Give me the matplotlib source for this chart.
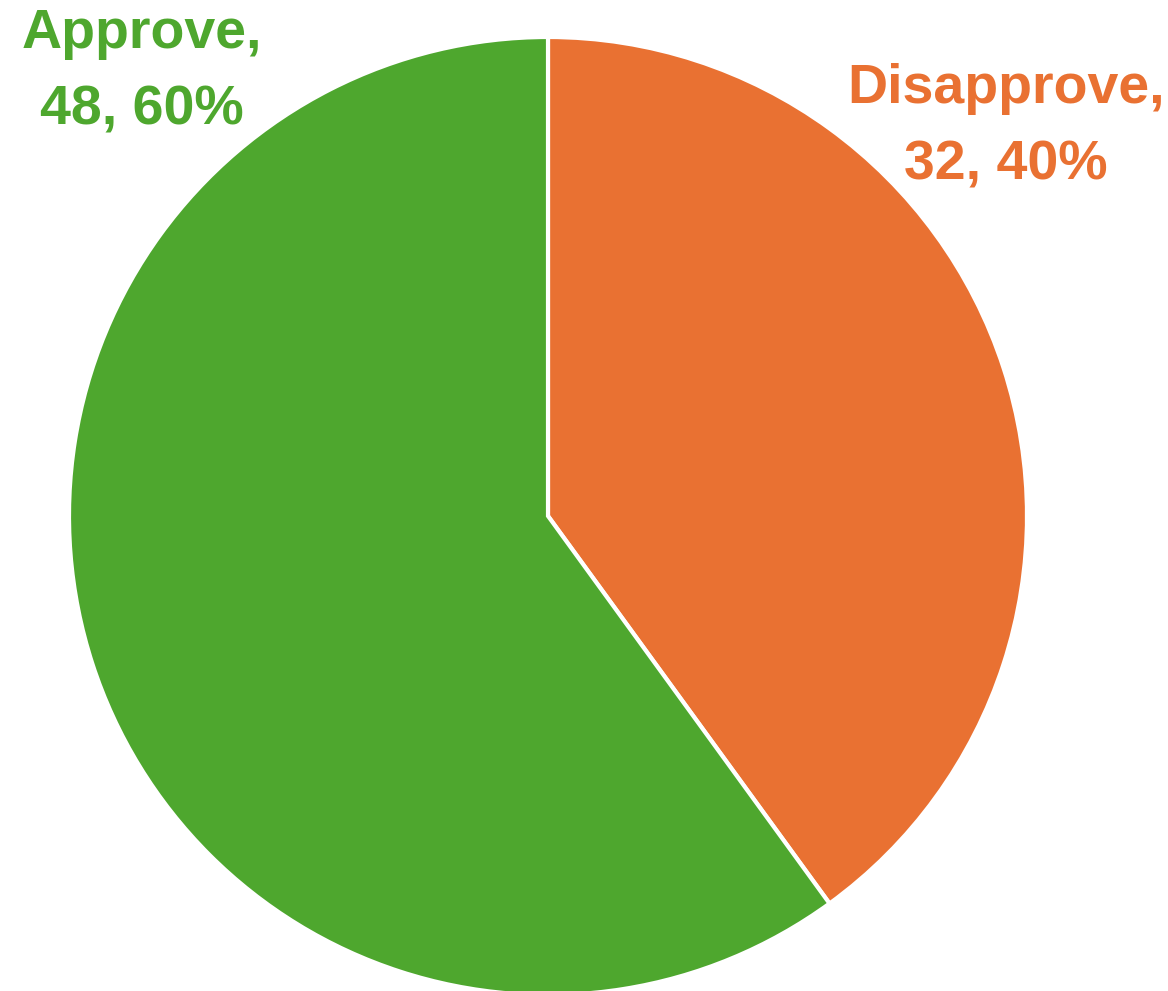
import matplotlib.pyplot as plt

# ── Data ─────────────────────────────────────────────
categories = ['Disapprove', 'Approve']
counts = [32, 48]
colors = ['#E97132', '#4EA72E']

total = sum(counts)

fig = plt.figure(figsize=(11.68, 9.91), dpi=100)
fig.patch.set_facecolor('white')

# pie centre at (548, 516) px, radius ~479 px
R = 479
cx, cy = 548, 991 - 516
ax = fig.add_axes([(cx - R) / 1168, (cy - R) / 991, 2 * R / 1168, 2 * R / 991])

wedges, _ = ax.pie(counts, colors=colors, startangle=90, counterclock=False,
                   radius=1, center=(0, 0),
                   wedgeprops=dict(edgecolor='white', linewidth=3))
for w in wedges:
    w.set_clip_on(False)

# pie() resets the limits, so set them afterwards
ax.set_xlim(-1, 1)
ax.set_ylim(-1, 1)
ax.set_aspect('equal')
ax.axis('off')

# labels (data coords relative to the pie)
label_pos = {'Disapprove': (0.956, 0.812), 'Approve': (-0.848, 0.926)}
for cat, n, c in zip(categories, counts, colors):
    x, y = label_pos[cat]
    ax.text(x, y, f'{cat},\n{n}, {n / total:.0%}', ha='center', va='center',
            fontsize=40, fontweight='bold', color=c, family='Liberation Sans',
            linespacing=1.6, clip_on=False)

plt.savefig('out.png', dpi=100)
